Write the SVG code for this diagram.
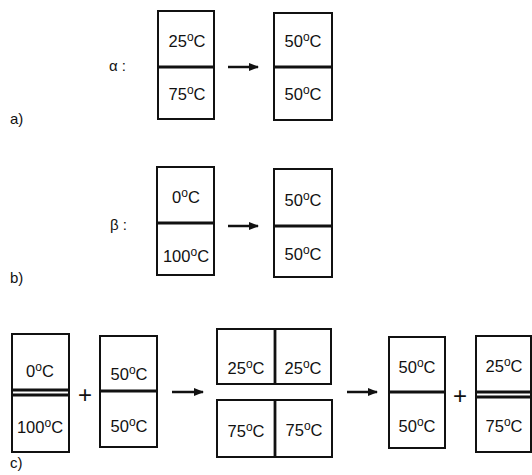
<svg xmlns="http://www.w3.org/2000/svg" width="532" height="475" viewBox="0 0 532 475">
<defs>
<style>
.box{fill:#fff;stroke:#111;stroke-width:2}
.div{stroke:#111;stroke-width:2.8}
.t{font-family:"Liberation Sans",Arial,sans-serif;font-size:16.5px;fill:#111;text-anchor:middle}
.lbl{font-family:"Liberation Sans",Arial,sans-serif;font-size:15px;fill:#111}
.arr{stroke:#111;stroke-width:2.5;fill:none}
.sup{font-size:12px}
.plus{font-family:"Liberation Sans",Arial,sans-serif;font-size:24px;fill:#111;text-anchor:middle}
</style>
<marker id="ah" viewBox="0 0 10 10" refX="9" refY="5" markerWidth="4" markerHeight="4" orient="auto" markerUnits="strokeWidth">
<path d="M0,1 L10,5 L0,9 z" fill="#111"/>
</marker>
</defs>
<rect width="532" height="475" fill="#fff"/>

<text class="lbl" x="10" y="124">a)</text>
<text class="lbl" x="10" y="283">b)</text>
<text class="lbl" x="10" y="468">c)</text>
<text class="lbl" x="109" y="71" font-size="18">α :</text>
<text class="lbl" x="110" y="230" font-size="17">β :</text>

<g id="a-left">
<rect class="box" x="158" y="11" width="56" height="108"/>
<line class="div" x1="158" y1="67" x2="214" y2="67"/>
<text class="t" x="187" y="47">25<tspan class="sup" dy="-6">o</tspan><tspan dy="6">C</tspan></text>
<text class="t" x="187" y="100">75<tspan class="sup" dy="-6">o</tspan><tspan dy="6">C</tspan></text>
</g>
<g id="a-right">
<rect class="box" x="274" y="13" width="58" height="107"/>
<line class="div" x1="274" y1="67" x2="332" y2="67"/>
<text class="t" x="303" y="47">50<tspan class="sup" dy="-6">o</tspan><tspan dy="6">C</tspan></text>
<text class="t" x="303" y="100">50<tspan class="sup" dy="-6">o</tspan><tspan dy="6">C</tspan></text>
</g>

<g id="b-left">
<rect class="box" x="157" y="167" width="57" height="108"/>
<line class="div" x1="157" y1="223" x2="214" y2="223"/>
<text class="t" x="186" y="203">0<tspan class="sup" dy="-6">o</tspan><tspan dy="6">C</tspan></text>
<text class="t" x="186" y="262">100<tspan class="sup" dy="-6">o</tspan><tspan dy="6">C</tspan></text>
</g>
<g id="b-right">
<rect class="box" x="274" y="169" width="58" height="108"/>
<line class="div" x1="274" y1="226" x2="332" y2="226"/>
<text class="t" x="303" y="206">50<tspan class="sup" dy="-6">o</tspan><tspan dy="6">C</tspan></text>
<text class="t" x="303" y="260">50<tspan class="sup" dy="-6">o</tspan><tspan dy="6">C</tspan></text>
</g>

<g id="c1">
<rect class="box" x="12" y="334" width="57" height="118"/>
<line class="div" x1="12" y1="390" x2="69" y2="390" stroke-width="2.2"/>
<line class="div" x1="12" y1="395" x2="69" y2="395" stroke-width="2.2"/>
<text class="t" x="40" y="377">0<tspan class="sup" dy="-6">o</tspan><tspan dy="6">C</tspan></text>
<text class="t" x="40" y="433">100<tspan class="sup" dy="-6">o</tspan><tspan dy="6">C</tspan></text>
</g>
<g id="c2">
<rect class="box" x="100" y="336" width="57" height="111"/>
<line class="div" x1="100" y1="391" x2="157" y2="391"/>
<text class="t" x="129" y="380">50<tspan class="sup" dy="-6">o</tspan><tspan dy="6">C</tspan></text>
<text class="t" x="129" y="432">50<tspan class="sup" dy="-6">o</tspan><tspan dy="6">C</tspan></text>
</g>
<g id="c3-top">
<rect class="box" x="217" y="329" width="114" height="55"/>
<line class="div" x1="275" y1="329" x2="275" y2="384"/>
<text class="t" x="246" y="374">25<tspan class="sup" dy="-6">o</tspan><tspan dy="6">C</tspan></text>
<text class="t" x="303" y="374">25<tspan class="sup" dy="-6">o</tspan><tspan dy="6">C</tspan></text>
</g>
<g id="c3-bottom">
<rect class="box" x="217" y="400" width="115" height="57"/>
<line class="div" x1="275" y1="400" x2="275" y2="457"/>
<text class="t" x="246" y="437">75<tspan class="sup" dy="-6">o</tspan><tspan dy="6">C</tspan></text>
<text class="t" x="304" y="436">75<tspan class="sup" dy="-6">o</tspan><tspan dy="6">C</tspan></text>
</g>
<g id="c4">
<rect class="box" x="389" y="337" width="56" height="111"/>
<line class="div" x1="389" y1="392" x2="445" y2="392"/>
<text class="t" x="417" y="373">50<tspan class="sup" dy="-6">o</tspan><tspan dy="6">C</tspan></text>
<text class="t" x="417" y="432">50<tspan class="sup" dy="-6">o</tspan><tspan dy="6">C</tspan></text>
</g>
<g id="c5">
<rect class="box" x="476" y="336" width="55" height="116"/>
<line class="div" x1="476" y1="392" x2="531" y2="392" stroke-width="2.2"/>
<line class="div" x1="476" y1="397" x2="531" y2="397" stroke-width="2.2"/>
<text class="t" x="504" y="372">25<tspan class="sup" dy="-6">o</tspan><tspan dy="6">C</tspan></text>
<text class="t" x="504" y="432">75<tspan class="sup" dy="-6">o</tspan><tspan dy="6">C</tspan></text>
</g>

<g id="plus">
<text class="plus" x="85" y="403">+</text>
<text class="plus" x="460" y="404">+</text>
</g>

<g id="connectors">
<line class="arr" x1="228" y1="67" x2="258" y2="67" marker-end="url(#ah)"/>
<line class="arr" x1="228" y1="226" x2="258" y2="226" marker-end="url(#ah)"/>
<line class="arr" x1="172" y1="392" x2="203" y2="392" marker-end="url(#ah)"/>
<line class="arr" x1="347" y1="392" x2="377" y2="392" marker-end="url(#ah)"/>
</g>
</svg>
